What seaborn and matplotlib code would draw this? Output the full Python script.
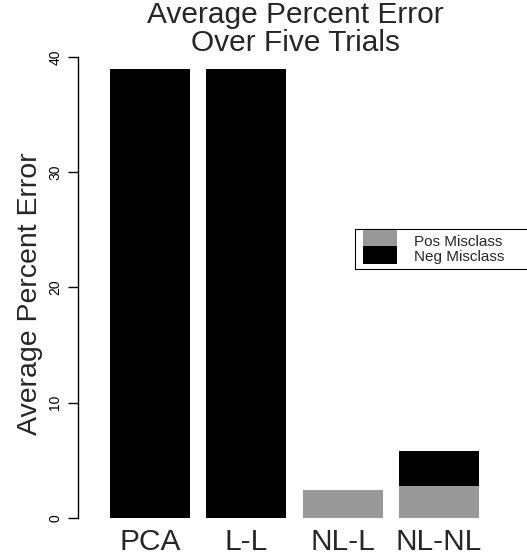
import matplotlib
matplotlib.use("Agg")
import matplotlib.pyplot as plt
from matplotlib.patches import Patch, Rectangle
from matplotlib.legend_handler import HandlerPatch
import seaborn as sns
import pandas as pd

categories = ["PCA", "L-L", "NL-L", "NL-NL"]
pos_misclass = [0.0, 0.0, 2.4, 2.75]
neg_misclass = [38.9, 38.9, 0.0, 3.05]
yticks = [0, 10, 20, 30, 40]
series_labels = ["Pos Misclass", "Neg Misclass"]

sns.set_style("white")
plt.rcParams["font.family"] = ["Liberation Sans", "DejaVu Sans"]

df = pd.DataFrame({"method": categories, "pos": pos_misclass, "neg": neg_misclass})
df["total"] = df["pos"] + df["neg"]

W, H = 527, 558
fig = plt.figure(figsize=(W / 100, H / 100), dpi=100)
ax = fig.add_axes([78 / W, (H - 536) / H, (511 - 78) / W, (536 - 51.5) / H])

gray = "#999999"
sns.barplot(data=df, x="method", y="total", color="black", width=0.833,
            saturation=1, ax=ax, linewidth=0, edgecolor="none")
sns.barplot(data=df, x="method", y="pos", color=gray, width=0.833,
            saturation=1, ax=ax, linewidth=0, edgecolor="none")

ax.set_xlim(-0.748, 3.748)
ax.set_ylim(-1.556, 40.46)
for s in ["top", "right", "bottom"]:
    ax.spines[s].set_visible(False)
ax.spines["left"].set_bounds(0, 40)
ax.spines["left"].set_linewidth(1.0)
ax.spines["left"].set_color("black")

ax.set_yticks(yticks)
ax.set_yticklabels([str(t) for t in yticks], rotation=90, va="center", fontsize=10)
ax.tick_params(axis="y", direction="out", length=7.2, width=1.0, pad=4, left=True, colors="black")
ax.tick_params(axis="x", length=0, pad=-5.6, labelsize=21.5)
ax.set_xlabel("")
ax.set_ylabel("")

fig.text(37 / W, (H - 294) / H, "Average Percent Error", rotation=90,
         rotation_mode="anchor", ha="center", va="baseline", fontsize=20.5)
fig.text(295.5 / W, (H - 23) / H, "Average Percent Error", ha="center",
         va="baseline", fontsize=21.5)
fig.text(295.5 / W, (H - 51) / H, "Over Five Trials", ha="center",
         va="baseline", fontsize=21.5)


def full_patch(legend, orig_handle, xdescent, ydescent, width, height, fontsize):
    return Rectangle((-xdescent, -ydescent - 0.5), width, height + ydescent + 1.0)


fs = 11
handles = [Patch(facecolor=gray, edgecolor="none", label=series_labels[0]),
           Patch(facecolor="black", edgecolor="none", label=series_labels[1])]
leg = fig.legend(handles=handles, loc="upper left",
                 bbox_to_anchor=(363 / W, (H - 233) / H),
                 fontsize=fs, frameon=False,
                 handlelength=2.22, handleheight=1.12, labelspacing=0,
                 handletextpad=1.1, borderpad=0, borderaxespad=0,
                 handler_map={Patch: HandlerPatch(patch_func=full_patch)})

# legend box outline (its right side runs past the figure edge, as in the reference)
fig.add_artist(Rectangle((355 / W, (H - 269) / H), (540 - 355) / W, (269 - 229) / H,
                         transform=fig.transFigure, fill=False, edgecolor="black",
                         linewidth=0.8, clip_on=False))

fig.savefig("out.png", dpi=100)
